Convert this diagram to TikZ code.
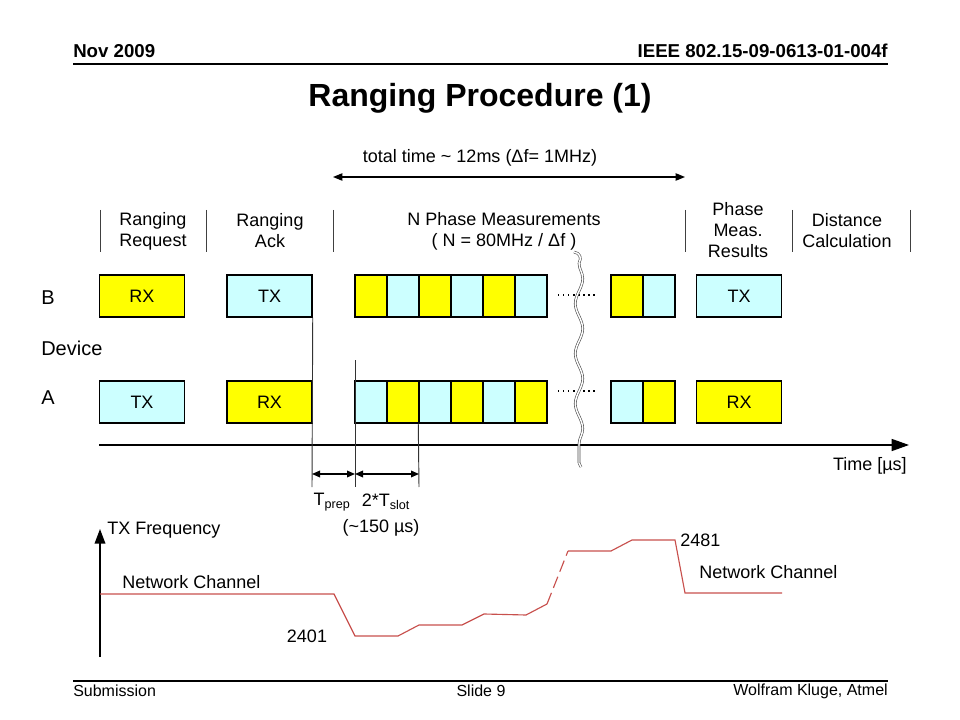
\documentclass[tikz,border=0pt]{standalone}
\usepackage{fontspec}
\setmainfont{Liberation Sans}
\usetikzlibrary{arrows.meta,decorations.pathmorphing}
\definecolor{yel}{HTML}{FFFF00}
\definecolor{cy}{HTML}{CCFFFF}
\definecolor{redl}{HTML}{C8504D}
\begin{document}
\begin{tikzpicture}[x=0.75pt,y=-0.75pt,
  lbl/.style={font=\fontsize{13.5}{15.75}\selectfont, align=center, inner sep=0pt},
  sidelbl/.style={font=\fontsize{15}{18}\selectfont, anchor=west, inner sep=0pt},
  hdr/.style={font=\fontsize{14}{16}\selectfont\bfseries, inner sep=0pt},
  ftr/.style={font=\fontsize{12}{14}\selectfont, inner sep=0pt},
  box/.style={draw, line width=1.1pt, minimum width=63.75pt, minimum height=31.5pt, inner sep=0pt, font=\fontsize{13.5}{15.75}\selectfont},
  cell/.style={draw, line width=1.1pt, minimum width=24pt, minimum height=31.5pt, inner sep=0pt},
  bar/.style={draw=black!75, line width=0.7pt},
  guide/.style={draw=black!80, line width=0.7pt},
  dimarrow/.style={line width=0.9pt, {Triangle[length=6pt,width=5pt]}-{Triangle[length=6pt,width=5pt]}},
  dots/.style={line width=0.8pt, dash pattern=on 1pt off 2.8pt},
  freq/.style={draw=redl, line width=0.85pt},
  brk/.style={draw=black!70, double=white, double distance=1.1pt, line width=0.45pt}
]
\path[use as bounding box, fill=white] (0,0) rectangle (960,720);

% header
\node[hdr, anchor=west] (nov) at (73,51) {Nov 2009};
\node[hdr, anchor=east] (ieee) at (888,51) {IEEE 802.15-09-0613-01-004f};
\coordinate (hl) at (73,64);
\coordinate (hr) at (888,64);
\draw[line width=1.1pt] (hl) -- (hr);
\node[font=\fontsize{24}{28}\selectfont\bfseries, inner sep=0pt] (title) at (480,98) {Ranging Procedure (1)};

% total time arrow
\node[lbl] (total) at (480,158) {total time \textasciitilde{} 12ms (Δf= 1MHz)};
\coordinate (tl) at (333,177);
\coordinate (tr) at (685,177);
\draw[line width=0.9pt, {Triangle[length=7pt,width=5.5pt]}-{Triangle[length=7pt,width=5.5pt]}] (tl) -- (tr);

% phase labels and bars
\foreach \x [count=\k] in {100,206,333,685,792,910}{
  \coordinate (bt\k) at (\x,210);
  \coordinate (bb\k) at (\x,252);
  \draw[bar] (bt\k) -- (bb\k);
}
\node[lbl] (l1) at (153,231) {Ranging\\Request};
\node[lbl] (l2) at (270,231) {Ranging\\Ack};
\node[lbl] (l3) at (504,231) {N Phase Measurements\\( N = 80MHz / Δf )};
\node[lbl] (l4) at (738,230) {Phase\\Meas.\\Results};
\node[lbl] (l5) at (847,231) {Distance\\Calculation};

% side labels
\node[sidelbl] (lb) at (41,298) {B};
\node[sidelbl] (ldev) at (41,348) {Device};
\node[sidelbl] (la) at (41,398) {A};

% boxes row B
\node[box, fill=yel] (bRX) at (142,296) {RX};
\node[box, fill=cy] (bTX) at (269.5,296) {TX};
\foreach \xc/\c [count=\k] in {371/yel,403/cy,435/yel,467/cy,499/yel,531/cy}
  \node[cell, fill=\c] (b\k) at (\xc,296) {};
\node[cell, fill=yel] (b7) at (627,296) {};
\node[cell, fill=cy] (b8) at (659,296) {};
\node[box, fill=cy] (bTX2) at (739,296) {TX};

% boxes row A
\node[box, fill=cy] (aTX) at (142,402) {TX};
\node[box, fill=yel] (aRX) at (269.5,402) {RX};
\foreach \xc/\c [count=\k] in {371/cy,403/yel,435/cy,467/yel,499/cy,531/yel}
  \node[cell, fill=\c] (a\k) at (\xc,402) {};
\node[cell, fill=cy] (a7) at (627,402) {};
\node[cell, fill=yel] (a8) at (659,402) {};
\node[box, fill=yel] (aRX2) at (739,402) {RX};

% dotted continuation
\coordinate (db1) at (558,295);
\coordinate (db2) at (598,295);
\coordinate (da1) at (558,391);
\coordinate (da2) at (598,391);
\draw[dots] (db1) -- (db2);
\draw[dots] (da1) -- (da2);

% time axis
\coordinate (ax0) at (99,445);
\coordinate (ax1) at (909,445);
\draw[line width=1.1pt, -{Triangle[length=13pt,width=9pt]}] (ax0) -- (ax1);
\node[lbl, anchor=east] (time) at (907,466) {Time [µs]};

% break mark
\coordinate (w0) at (574,252);
\coordinate (w1) at (579,263);
\coordinate (w2) at (579,463);
\coordinate (w3) at (581,467);
\draw[brk] (w0) .. controls (580,253) and (582,258) .. (w1);
\draw[brk, decorate, decoration={snake, amplitude=2.8pt, segment length=37.5pt}] (w1) -- (w2);
\draw[brk] (w2) -- (w3);

% guide lines
\coordinate (g1) at (312,487);
\coordinate (g2t) at (355,360);
\coordinate (g2) at (355,487);
\coordinate (g3) at (419,487);
\draw[guide] (bTX.south east) -- (g1);
\draw[guide] (g2t) -- (g2);
\draw[guide] (a3.south west) -- (g3);
\coordinate (p1) at (312,474);
\coordinate (p2) at (355,474);
\coordinate (p3) at (419,474);
\draw[dimarrow] (p1) -- (p2);
\draw[dimarrow] (p2) -- (p3);
\node[lbl] (tprep) at (332,502) {T\textsubscript{prep}};
\node[lbl] (tslot) at (386,502) {2*T\textsubscript{slot}};
\node[lbl] (us150) at (381,528) {(\textasciitilde150 µs)};

% frequency plot
\coordinate (f0) at (100,657);
\coordinate (f1) at (100,529);
\draw[line width=1.1pt, -{Triangle[length=11pt,width=8pt]}] (f0) -- (f1);
\node[lbl, anchor=west] (txf) at (107,530) {TX Frequency};
\node[lbl, anchor=west] (nc1) at (122,582) {Network Channel};
\node[lbl] (n2401) at (307,636) {2401};
\node[lbl, anchor=west] (n2481) at (680,540) {2481};
\node[lbl, anchor=west] (nc2) at (699,572) {Network Channel};
\coordinate (r0) at (100,594);
\coordinate (rd1) at (547,604);
\coordinate (rd2) at (568,551);
\coordinate (rend) at (782,593);
\draw[freq] (r0) -- (334,594) -- (355,636) -- (398,636) -- (419,625) -- (462,625)
  -- (484,614) -- (526,615) -- (rd1);
\draw[freq, dash pattern=on 9pt off 4pt] (rd1) -- (rd2);
\draw[freq] (rd2) -- (611,551) -- (632,540) -- (675,540) -- (685,593) -- (rend);

% footer
\coordinate (fl) at (73,681);
\coordinate (fr) at (888,681);
\draw[line width=1.1pt] (fl) -- (fr);
\node[ftr, anchor=west] (sub) at (73,691) {Submission};
\node[ftr] (slide) at (481,691) {Slide 9};
\node[ftr, anchor=east] (auth) at (888,691) {Wolfram Kluge, Atmel};
\end{tikzpicture}
\end{document}
